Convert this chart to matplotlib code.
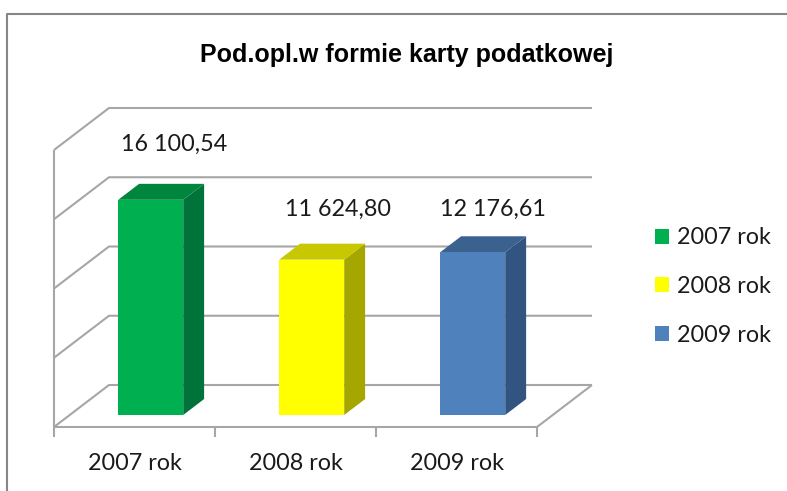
import matplotlib
matplotlib.use("Agg")
import matplotlib.pyplot as plt
from matplotlib.patches import Polygon, Patch

categories = ["2007 rok", "2008 rok", "2009 rok"]
values = [16100.54, 11624.80, 12176.61]
value_labels = ["16 100,54", "11 624,80", "12 176,61"]
grid_values = [0, 5000, 10000, 15000, 20000]
front_colors = ["#00B050", "#FFFF00", "#4F81BD"]
top_colors = ["#00863C", "#C8C800", "#3B618F"]
side_colors = ["#00733A", "#A6A600", "#325480"]
# label offsets from the bar's top front edge centre, in points
label_offsets = [(16.5, 40), (19, 36), (14.5, 31)]

W, H = 787, 491
GRID = "#A6A6A6"
TEXT = "#1A1A1A"
plt.rcParams["font.family"] = ["Lato", "DejaVu Sans"]

fig = plt.figure(figsize=(W / 100, H / 100), dpi=100)
# axes = front plane of the fake 3D box
ax = fig.add_axes([54 / W, (H - 427) / H, (537 - 54) / W, (427 - 150) / H])
ax.set_xlim(0, 3)
ax.set_ylim(0, 20000)
ax.axis("off")

# depth offset of the back wall, in data units
DX = 55 / 161
DY = 42 / 277 * 20000
BAR_SCALE = 0.965  # bars sit further back so they look a bit smaller
BAR_W = 65 / 161
BAR_DEPTH0 = 0.286
BAR_DEPTH = 0.38


def shift(x, y, d):
    return (x + DX * d, y + DY * d)


def line(pts):
    xs, ys = zip(*pts)
    ax.plot(xs, ys, color=GRID, lw=1.5, clip_on=False, solid_capstyle="butt", zorder=1)


# walls and floor
for g in grid_values:
    line([(0, g), shift(0, g, 1), shift(3, g, 1)])
line([(0, 0), (0, 20000)])
line([(0, 0), (3, 0), shift(3, 0, 1)])
for i in range(4):
    line([(i, 0), (i, -720)])

# bars
for i, v in enumerate(values):
    x0 = i + 0.503 - BAR_W / 2
    x1 = x0 + BAR_W
    y1 = v * BAR_SCALE
    a = shift(x0, 0, BAR_DEPTH0)
    b = shift(x1, 0, BAR_DEPTH0)
    c = shift(x1, y1, BAR_DEPTH0)
    d = shift(x0, y1, BAR_DEPTH0)
    e = (b[0] + DX * BAR_DEPTH, b[1] + DY * BAR_DEPTH)
    f = (c[0] + DX * BAR_DEPTH, c[1] + DY * BAR_DEPTH)
    g = (d[0] + DX * BAR_DEPTH, d[1] + DY * BAR_DEPTH)
    ax.add_patch(Polygon([b, e, f, c], fc=side_colors[i], ec="none", zorder=3, clip_on=False))
    ax.add_patch(Polygon([d, c, f, g], fc=top_colors[i], ec="none", zorder=3, clip_on=False))
    ax.add_patch(Polygon([a, b, c, d], fc=front_colors[i], ec="none", zorder=4, clip_on=False))
    ax.annotate(value_labels[i], xy=((c[0] + d[0]) / 2, c[1]), xytext=label_offsets[i],
                textcoords="offset points", ha="center", va="center",
                fontsize=16.8, color=TEXT, zorder=5, annotation_clip=False)
    ax.text(i + 0.5, -2620, categories[i], ha="center", va="center", fontsize=16.8, color=TEXT)

handles = [Patch(fc=c, ec="none", label=n) for c, n in zip(front_colors, categories)]
fig.legend(handles=handles, loc="center left", bbox_to_anchor=(655 / W, 1 - 286.5 / H),
           frameon=False, fontsize=16.8, labelcolor=TEXT, handlelength=0.6, handleheight=0.6,
           handletextpad=0.34, labelspacing=1.18, borderpad=0, borderaxespad=0)

fig.text(407 / W, 1 - 55 / H, "Pod.opl.w formie karty podatkowej", ha="center", va="center",
         fontsize=18, fontweight="bold", color="black", family="Liberation Sans")

# chart frame, only the top and left edges show
fig.add_artist(plt.Line2D([7 / W, 7 / W, 1],
                          [0, 1 - 14 / H, 1 - 14 / H],
                          color="#868686", lw=1.5))

fig.savefig("out.png", dpi=100)
